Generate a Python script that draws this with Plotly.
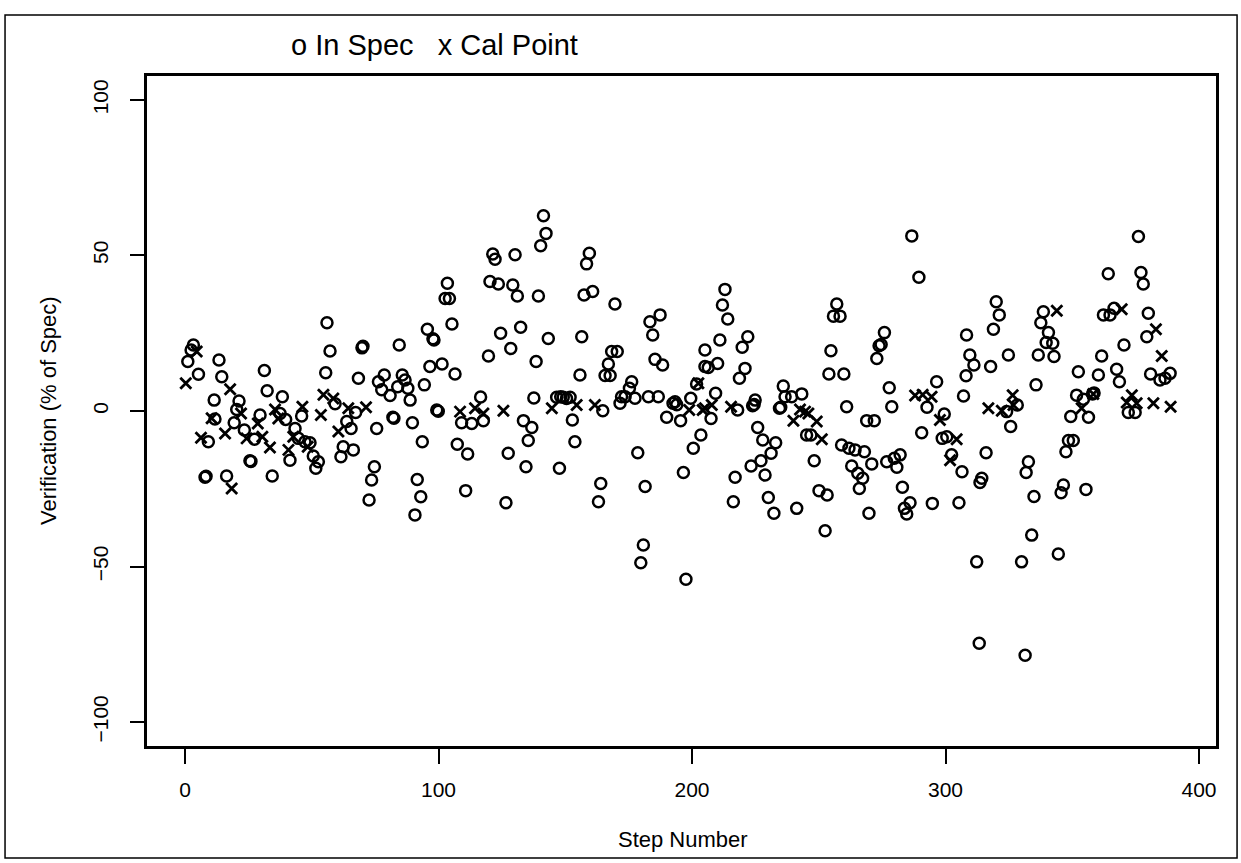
import plotly.graph_objects as go

# "o" points: verification within spec
spec_step = [1.1, 2.4, 3.3, 5.3, 7.9, 8.3, 9.2, 11.5, 11.8, 13.4, 14.5, 16.4,
             19.4, 20.4, 21.3, 23.4, 25.6, 26.0, 27.4, 29.6,
             31.3, 32.4, 34.4, 37.5, 38.4, 39.7,
             41.4, 43.4, 44.7, 46.0, 47.3, 49.3, 50.6, 51.6, 52.6,
             55.5, 56.0, 57.2, 59.2, 61.5, 62.4, 63.8, 65.5, 66.4, 67.3, 68.4,
             69.8, 70.2, 72.6, 73.6, 74.7, 75.6, 76.3, 77.6, 78.6, 80.9,
             82.0, 82.4, 83.9, 84.5, 85.7, 86.8, 87.9, 88.8, 89.7,
             90.7, 91.6, 93.0, 93.6, 94.4, 95.6, 96.6, 97.8, 98.2,
             99.3, 99.9, 101.4, 102.6, 103.5, 104.3, 105.3, 106.5,
             107.4, 109.1, 110.7, 111.5, 113.1, 116.6, 117.7, 119.7,
             120.3, 121.4, 122.3, 123.6, 124.5, 126.6, 127.5, 128.5, 129.3, 130.2, 131.1, 132.4,
             133.5, 134.5, 135.4, 136.8, 137.6, 138.5, 139.4, 140.3, 141.4, 142.4, 143.3,
             146.6, 147.7, 148.2, 149.2, 150.5, 151.9, 152.8, 153.8, 155.8, 156.5, 157.4, 158.4, 159.5, 160.8,
             163.1, 164.0, 164.8, 165.7, 167.0, 167.7, 168.3, 169.6, 170.5,
             171.6, 172.2, 173.6, 175.3, 176.2, 177.5, 178.6, 179.8, 180.8, 181.5,
             182.8, 183.4, 184.5, 185.4, 186.7, 187.4, 188.4,
             190.0, 192.5, 193.3, 194.0, 195.5, 196.6, 197.6, 199.5, 200.5, 201.8,
             203.5, 205.1, 205.1, 206.4, 207.5, 209.3, 210.1, 211.0, 212.0, 213.0, 214.1,
             216.3, 217.0, 218.0, 218.7, 219.8, 220.9, 222.0, 223.3, 223.9, 224.5, 224.9,
             225.9, 227.2, 227.9, 228.8, 230.1, 231.2, 232.3, 233.0,
             234.5, 235.0, 236.0, 236.7, 239.3, 241.3, 243.3, 245.2, 246.9, 248.2, 250.1, 252.5, 253.3,
             254.0, 254.8, 255.8, 257.1, 258.4, 259.0, 259.9, 261.0, 261.9, 263.0, 264.3, 265.4, 266.0,
             267.3, 268.0, 268.9, 269.8, 270.9, 271.9,
             272.9, 273.8, 274.6, 275.9, 276.8, 277.8, 278.8, 279.8, 280.8, 282.1, 283.0, 283.8, 284.7, 286.0, 286.7,
             289.5, 290.6, 292.7, 294.8, 296.5, 298.7, 299.5, 300.5, 302.4,
             305.3, 306.5, 307.1, 308.1, 308.3, 309.6, 311.2,
             312.3, 313.3, 313.6, 314.3, 316.0, 317.8, 318.9, 320.0, 321.2,
             324.1, 324.8, 325.7, 328.3, 330.0, 331.4, 331.8, 332.7, 334.0, 334.9, 335.7, 336.6,
             337.6, 338.6, 339.7, 340.6, 342.3, 342.8, 344.5, 345.6, 346.5, 347.5, 348.5, 349.4, 350.4,
             351.7, 352.4, 354.4, 355.4, 356.4, 358.0, 358.6, 360.3, 361.6, 362.3, 364.2, 364.9, 366.5,
             367.5, 368.6, 370.4,
             372.1, 374.8, 376.1, 377.1, 378.0, 379.4, 380.0, 380.9, 384.6, 386.6, 388.6]
spec_pct = [15.9, 19.6, 21.2, 11.8, -21.3, -21.0, -9.9, 3.5, -2.6, 16.4, 11.0, -20.9,
            -3.8, 0.5, 3.2, -6.1, -16.0, -16.2, -9.1, -1.3,
            13.0, 6.5, -20.9, -0.8, 4.6, -2.7,
            -15.8, -5.6, -8.8, -1.6, -9.9, -10.2, -14.5, -18.4, -16.3,
            12.3, 28.4, 19.3, 2.3, -14.7, -11.5, -3.4, -5.6, -12.5, -0.5, 10.5,
            20.3, 20.8, -28.6, -22.2, -17.9, -5.6, 9.4, 6.8, 11.6, 5.0,
            -2.0, -2.3, 7.8, 21.2, 11.6, 10.0, 7.3, 3.5, -3.8,
            -33.4, -22.0, -27.6, -9.9, 8.4, 26.3, 14.3, 23.2, 22.8,
            0.3, -0.1, 15.1, 36.2, 41.1, 36.2, 28.0, 11.9,
            -10.7, -3.8, -25.6, -13.8, -4.0, 4.5, -3.1, 17.7,
            41.6, 50.5, 48.8, 40.8, 25.0, -29.5, -13.6, 20.1, 40.5, 50.2, 37.0, 26.9,
            -3.1, -17.9, -9.5, -5.3, 4.2, 15.9, 37.0, 53.1, 62.8, 57.1, 23.3,
            4.4, -18.4, 4.6, 4.4, 4.0, 4.4, -2.9, -9.9, 11.6, 23.9, 37.3, 47.3, 50.7, 38.4,
            -29.2, -23.3, 0.1, 11.4, 15.1, 11.4, 19.1, 34.4, 19.1,
            2.5, 4.6, 4.6, 7.3, 9.4, 4.1, -13.4, -48.8, -43.1, -24.3,
            4.6, 28.7, 24.4, 16.6, 4.6, 30.9, 14.8,
            -2.0, 2.5, 3.0, 2.0, -3.1, -19.8, -54.1, 4.1, -12.0, 8.7,
            -7.7, 19.6, 14.3, 14.0, -2.4, 5.7, 15.3, 22.8, 34.1, 39.1, 29.6,
            -29.2, -21.3, 0.3, 10.5, 20.5, 13.7, 23.9, -17.7, 1.7, 2.1, 3.5,
            -5.3, -16.0, -9.3, -20.6, -27.8, -13.6, -32.9, -10.2,
            0.9, 1.2, 8.0, 4.6, 4.6, -31.3, 5.5, -7.7, -7.7, -16.0, -25.6, -38.5, -27.0,
            11.9, 19.4, 30.5, 34.4, 30.5, -10.9, 11.9, 1.4, -12.0, -17.7, -12.5, -20.0, -24.9,
            -21.6, -13.1, -3.1, -32.9, -17.0, -3.1,
            16.9, 21.0, 21.4, 25.2, -16.3, 7.5, 1.4, -15.2, -18.1, -14.1, -24.5, -31.3, -33.1, -29.5, 56.3,
            43.0, -7.0, 1.2, -29.7, 9.4, -8.8, -1.0, -8.3, -14.1,
            -29.5, -19.5, 4.8, 11.3, 24.4, 18.0, 14.8,
            -48.5, -74.7, -23.0, -21.6, -13.4, 14.3, 26.3, 35.1, 30.9,
            -0.2, 18.0, -5.0, 1.9, -48.5, -78.5, -19.8, -16.3, -39.9, -27.5, 8.4, 18.0,
            28.4, 31.9, 22.0, 25.2, 21.8, 17.5, -46.0, -26.3, -23.8, -13.1, -9.5, -1.8, -9.5,
            5.1, 12.6, 3.8, -25.2, -2.0, 5.5, 5.8, 11.6, 17.7, 30.9, 44.1, 30.9, 33.0,
            13.4, 9.4, 21.2,
            -0.5, -0.5, 56.1, 44.5, 40.8, 23.9, 31.4, 11.9, 10.0, 10.5, 12.1]

# "x" points: calibration points
cal_step = [0.3, 4.6, 6.3, 10.5, 15.8, 17.8, 18.4, 22.1, 24.3, 28.7, 30.5, 33.5,
            35.5, 36.8, 40.8, 42.7, 46.3, 48.4, 53.6, 54.6, 58.5, 60.5, 64.4, 71.4,
            108.5, 114.4, 117.7, 125.6, 144.7, 154.5, 161.7,
            198.9, 202.5, 204.2, 205.1, 207.8, 215.4,
            240.0, 242.6, 244.6, 245.9, 249.2, 251.2,
            288.0, 291.0, 294.5, 297.8, 301.8, 304.4,
            316.9, 322.2, 326.5, 326.8, 343.9, 353.7, 358.3,
            369.5, 371.5, 373.5, 375.4, 382.0, 383.0, 385.3, 388.8]
cal_pct = [8.9, 19.1, -8.6, -2.3, -7.2, 7.0, -24.9, -0.8, -8.8, -4.0, -8.3, -11.7,
           0.5, -2.4, -12.5, -8.3, 1.4, -11.5, -1.3, 5.2, 4.0, -6.6, 0.9, 1.2,
           -0.2, 0.9, -0.8, 0.1, 0.9, 1.9, 1.9,
           0.3, 8.9, 0.3, 0.9, 1.9, 1.4,
           -3.1, 0.5, -0.2, -0.8, -3.4, -9.1,
           5.0, 5.2, 4.6, -2.9, -15.8, -9.1,
           0.9, 0.1, 5.1, 1.9, 32.2, 0.9, 5.5,
           32.7, 2.7, 5.1, 2.5, 2.5, 26.3, 17.7, 1.4]

x_ticks = [0, 100, 200, 300, 400]
y_ticks = [-100, -50, 0, 50, 100]

FONT = "Liberation Sans, Arial, sans-serif"

fig = go.Figure()
fig.add_trace(go.Scatter(
    x=spec_step, y=spec_pct, mode="markers", name="In Spec",
    marker=dict(symbol="circle-open", size=11, color="black",
                line=dict(color="black", width=2.5))))
fig.add_trace(go.Scatter(
    x=cal_step, y=cal_pct, mode="markers", name="Cal Point",
    marker=dict(symbol="x-thin-open", size=11, color="black",
                line=dict(color="black", width=2.8))))

axis_font = dict(family=FONT, size=21, color="black")

fig.update_xaxes(range=[-15.0, 406.7], tickvals=x_ticks, ticks="outside",
                 ticklen=15, tickwidth=1.5, tickcolor="black",
                 showline=True, linecolor="black", linewidth=2.5, mirror=True,
                 showgrid=False, zeroline=False, tickfont=axis_font,
                 ticklabelstandoff=8)
fig.update_yaxes(range=[-107.7, 107.7], tickvals=y_ticks, ticks="outside",
                 ticklen=14, tickwidth=1.5, tickcolor="black", tickangle=-90,
                 showline=True, linecolor="black", linewidth=2.5, mirror=True,
                 showgrid=False, zeroline=False, tickfont=axis_font,
                 ticklabelstandoff=14)

fig.add_annotation(text="o In Spec   x Cal Point", xref="paper", yref="paper",
                   x=0.269, y=1.046, showarrow=False,
                   xanchor="center", yanchor="middle",
                   font=dict(family=FONT, size=29, color="black"))
fig.add_annotation(text="Step Number", xref="paper", yref="paper",
                   x=0.501, y=-0.140, showarrow=False,
                   xanchor="center", yanchor="middle",
                   font=dict(family=FONT, size=22, color="black"))
fig.add_annotation(text="Verification (% of Spec)", xref="paper", yref="paper",
                   x=-0.0926, y=0.5, showarrow=False, textangle=-90,
                   xanchor="center", yanchor="middle",
                   font=dict(family=FONT, size=22, color="black"))

# outer frame around the whole page
fig.add_shape(type="rect", xref="paper", yref="paper",
              x0=-0.1328, x1=1.0197, y0=-0.167, y1=1.091,
              line=dict(color="black", width=1.5))

fig.update_layout(width=1241, height=863, showlegend=False,
                  paper_bgcolor="white", plot_bgcolor="white",
                  margin=dict(l=147, r=25, t=76, b=117))

fig.write_html("out.html", config={"displayModeBar": False},
               post_script="document.body.style.margin='0';")
